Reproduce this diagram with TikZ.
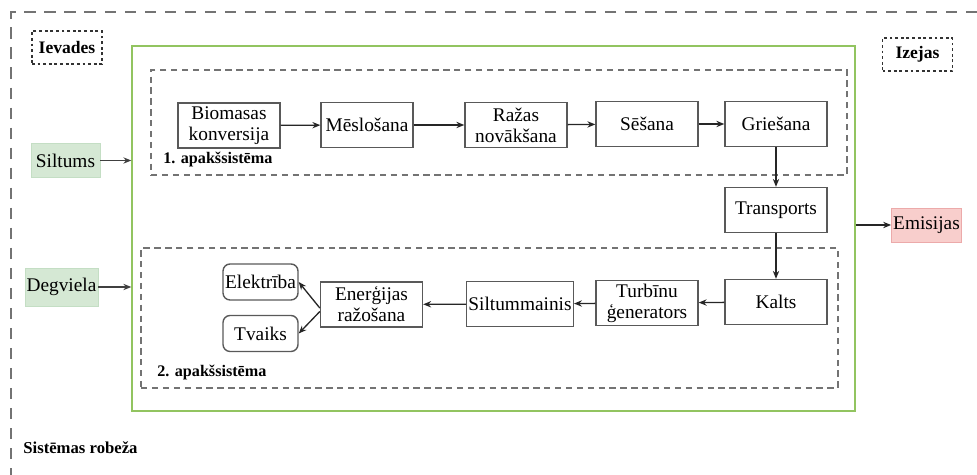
\documentclass[tikz,border=0pt]{standalone}
\usepackage{fontspec}
\setmainfont{Liberation Serif}
\usetikzlibrary{arrows.meta,positioning}
\definecolor{ingreen}{RGB}{213,232,212}
\definecolor{inedge}{RGB}{196,222,196}
\definecolor{outred}{RGB}{248,206,204}
\definecolor{outedge}{RGB}{236,170,170}
\definecolor{coregreen}{RGB}{146,196,96}
\tikzset{
	stage/.style={draw=black!65, line width=0.8pt, minimum width=2.04cm, minimum height=0.9cm,
		inner sep=1pt, align=center, font=\fontsize{11}{12}\selectfont},
	product/.style={stage, rounded corners=4pt, minimum width=1.5cm, minimum height=0.72cm},
	inbox/.style={fill=ingreen, draw=inedge, minimum width=1.38cm, minimum height=0.68cm,
		inner sep=1pt, font=\fontsize{11}{12}\selectfont},
	outbox/.style={inbox, fill=outred, draw=outedge},
	tagbox/.style={draw=black!80, line width=0.8pt, dash pattern=on 1.6pt off 1.6pt,
		minimum width=1.4cm, minimum height=0.66cm, font=\fontsize{10}{12}\selectfont\bfseries},
	subsys/.style={draw=black!55, line width=0.8pt, dash pattern=on 3.6pt off 2.6pt},
	sublabel/.style={anchor=west, inner sep=0pt, font=\fontsize{9.2}{11}\selectfont\bfseries},
	flow/.style={-{Stealth[length=4.5pt,width=3.6pt]}, line width=0.75pt, draw=black!85},
	feed/.style={flow, line width=0.6pt, draw=black!75},
}

\begin{document}
\begin{tikzpicture}[x=0.02cm, y=-0.02cm]
	\useasboundingbox (0,0) rectangle (977,475);
	% system boundary
	\draw[black!55, line width=1.1pt, dash pattern=on 6.4pt off 5pt] (977,12) -- (11,12) -- (11,475);
	\node[tagbox] (ievades) at (67,47.5) {Ievades};
	\node[tagbox] (izejas) at (917.5,54.5) {Izejas};
	\node[anchor=west, inner sep=0pt, font=\fontsize{9.5}{11}\selectfont\bfseries] (robeza) at (23,448) {Sistēmas robeža};

	% core system and subsystems
	\node[draw=coregreen, line width=0.9pt, minimum width=14.46cm, minimum height=7.3cm] (core) at (493.5,228.5) {};
	\node[subsys, minimum width=13.92cm, minimum height=2.1cm] (sub1) at (499,122.5) {};
	\node[subsys, minimum width=13.94cm, minimum height=2.8cm] (sub2) at (489.5,318) {};
	\node[sublabel] (lab1) at (163,160) {1. apakšsistēma};
	\node[sublabel] (lab2) at (157,373) {2. apakšsistēma};

	% subsystem 1
	\node[stage] (bio) at (229,125.5) {Biomasas\\konversija};
	\node[stage, minimum width=1.84cm] (mesl) at (367,125) {Mēslošana};
	\node[stage] (razas) at (516,125) {Ražas\\novākšana};
	\node[stage] (sesana) at (647,124) {Sēšana};
	\node[stage] (gries) at (776,124) {Griešana};
	\node[stage] (transp) at (776,210) {Transports};

	% subsystem 2
	\node[stage] (kalts) at (776,302) {Kalts};
	\node[stage] (turb) at (647,303) {Turbīnu\\ģenerators};
	\node[stage] (siltm) at (520,304) {Siltummainis};
	\node[stage] (energ) at (371.5,304.5) {Enerģijas\\ražošana};
	\node[product] (elek) at (260.5,282) {Elektrība};
	\node[product] (tvaiks) at (260.5,333.5) {Tvaiks};

	% inputs and outputs
	\node[inbox] (siltums) at (65.5,160.5) {Siltums};
	\node[inbox, minimum width=1.42cm, minimum height=0.76cm] (degviela) at (61.5,287) {Degviela};
	\node[outbox] (emis) at (926.5,225) {Emisijas};

	\draw[flow] (bio) -- (mesl);
	\draw[flow] (mesl) -- (razas);
	\draw[flow] (razas) -- (sesana);
	\draw[flow] (sesana) -- (gries);
	\draw[flow] (gries) -- (transp);
	\draw[flow] (transp) -- (kalts);
	\draw[flow] (kalts) -- (turb);
	\draw[flow] (turb) -- (siltm);
	\draw[flow] (siltm) -- (energ);
	\draw[flow] ([yshift=-2pt]energ.west) -- (elek.east);
	\draw[flow] ([yshift=-4pt]energ.west) -- (tvaiks.east);
	\draw[feed] (siltums.east) -- (siltums.east -| core.west);
	\draw[feed] (degviela.east) -- (degviela.east -| core.west);
	\draw[flow] (emis.west -| core.east) -- (emis.west);
\end{tikzpicture}
\end{document}
